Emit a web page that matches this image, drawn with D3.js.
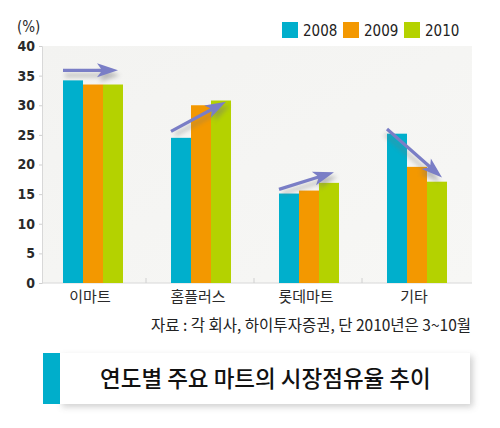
<!DOCTYPE html>
<html><head><meta charset="utf-8">
<script src="https://cdn.jsdelivr.net/npm/d3@7/dist/d3.min.js"></script>
<style>
html,body{margin:0;padding:0;background:#fff;}
svg{display:block;}
</style></head>
<body>
<script>
const categories = ["이마트", "홈플러스", "롯데마트", "기타"];
const years = ["2008", "2009", "2010"];
const v2008 = [34.2, 24.5, 15.1, 25.2];
const v2009 = [33.5, 30.0, 15.6, 19.6];
const v2010 = [33.5, 30.8, 16.9, 17.1];
const yTicks = [0, 5, 10, 15, 20, 25, 30, 35, 40];
const arrowFrom = [35.9, 25.6, 15.8, 26.0];
const arrowTo = [35.9, 30.6, 18.7, 17.8];
const colors = ["#00afcc", "#f39800", "#b4d200"];
const sourceText = "자료 : 각 회사, 하이투자증권, 단 2010년은 3~10월";
const titleText = "연도별 주요 마트의 시장점유율 추이";

const series = [v2008, v2009, v2010];
const W = 500, H = 428;
const svg = d3.select("body").append("svg").attr("width", W).attr("height", H);
const defs = svg.append("defs");

const plot = {left: 42, right: 472, top: 46, bottom: 283};
const numFont = "'DejaVu Sans Condensed','Liberation Sans Narrow',sans-serif";
const krFont = "'Noto Sans CJK KR',sans-serif";

// plot background gradient
const g1 = defs.append("linearGradient").attr("id", "bg").attr("x1", 0).attr("y1", 0).attr("x2", 1).attr("y2", 1);
g1.append("stop").attr("offset", 0).attr("stop-color", "#f3f3f1");
g1.append("stop").attr("offset", 1).attr("stop-color", "#f7f7f5");
svg.append("rect").attr("x", plot.left).attr("y", plot.top)
  .attr("width", plot.right - plot.left).attr("height", plot.bottom - plot.top)
  .attr("fill", "url(#bg)");

const y = d3.scaleLinear().domain([0, 40]).range([plot.bottom, plot.top]);
const x = d3.scaleBand().domain(categories).range([36, 468]);
const inner = d3.scaleBand().domain(years).range([0, 60]);

// y axis
const yAxis = svg.append("g").attr("transform", `translate(${plot.left},0)`)
  .call(d3.axisLeft(y).tickValues(yTicks).tickSize(3).tickPadding(4));
yAxis.select(".domain").attr("stroke", "#d8d8d8");
yAxis.selectAll(".tick line").attr("stroke", "#cfcfcf");
yAxis.selectAll("text").attr("fill", "#2a2a2a").style("font-family", numFont)
  .style("font-size", "14px").style("font-weight", "bold");

// x axis
const xAxis = svg.append("g").attr("transform", `translate(0,${plot.bottom})`)
  .call(d3.axisBottom(x).tickSize(0).tickPadding(8));
xAxis.select(".domain").attr("stroke", "#d8d8d8").attr("d", `M${plot.left},0H${plot.right}`);
xAxis.selectAll("text").attr("fill", "#2a2a2a").style("font-family", krFont).style("font-size", "15px");
// separators between groups
const seps = categories.slice(1);
svg.append("g").selectAll("line").data(seps).join("line")
  .attr("x1", d => x(d) + 2).attr("x2", d => x(d) + 2)
  .attr("y1", plot.bottom - 5).attr("y2", plot.bottom)
  .attr("stroke", "#d0d0d0");

// bars
const groupOffset = (x.bandwidth() - 60) / 2 + 3;
const bars = svg.append("g");
categories.forEach((c, i) => {
  years.forEach((yr, j) => {
    bars.append("rect")
      .attr("x", x(c) + groupOffset + inner(yr))
      .attr("y", y(series[j][i]))
      .attr("width", inner.bandwidth())
      .attr("height", y(0) - y(series[j][i]))
      .attr("fill", colors[j]);
  });
});

// arrows with shadow
const f = defs.append("filter").attr("id", "sh").attr("x", "-20%").attr("y", "-50%").attr("width", "140%").attr("height", "250%");
f.append("feGaussianBlur").attr("stdDeviation", 2);
const arrows = svg.append("g");
categories.forEach((c, i) => {
  const x0 = x(c) + groupOffset;
  const x1 = x0 + 55;
  const y0 = y(arrowFrom[i]), y1 = y(arrowTo[i]);
  const ang = Math.atan2(y1 - y0, x1 - x0);
  const len = Math.hypot(x1 - x0, y1 - y0);
  const g = arrows.append("g").attr("transform", `translate(${x0},${y0}) rotate(${ang * 180 / Math.PI})`);
  const path = `M0,-1.6 L${len - 17},-1.6 L${len - 21},-7 L${len},0 L${len - 21},7 L${len - 17},1.6 L0,1.6 Z`;
  g.append("path").attr("d", path).attr("fill", "#777").attr("opacity", 0.45)
    .attr("transform", "translate(2,5)").attr("filter", "url(#sh)");
  g.append("path").attr("d", path).attr("fill", "#7a7ec6");
});

// y unit
svg.append("text").attr("x", 17).attr("y", 32).text("(%)")
  .attr("fill", "#2a2a2a").style("font-family", numFont).style("font-size", "15px");

// legend
const leg = svg.append("g");
const legX = [282, 343, 404];
years.forEach((yr, j) => {
  leg.append("rect").attr("x", legX[j]).attr("y", 22).attr("width", 16).attr("height", 16).attr("fill", colors[j]);
  leg.append("text").attr("x", legX[j] + 21).attr("y", 36).text(yr)
    .attr("fill", "#222").style("font-family", numFont).style("font-size", "15px");
});

// source
svg.append("text").attr("x", 471).attr("y", 331).attr("text-anchor", "end").text(sourceText)
  .attr("fill", "#222").style("font-family", krFont).style("font-size", "15.5px");

// title box
const f2 = defs.append("filter").attr("id", "sh2").attr("x", "-10%").attr("y", "-30%").attr("width", "120%").attr("height", "170%");
f2.append("feGaussianBlur").attr("stdDeviation", 3);
svg.append("rect").attr("x", 62).attr("y", 356).attr("width", 411).attr("height", 51)
  .attr("fill", "#999").attr("opacity", 0.45).attr("filter", "url(#sh2)");
svg.append("rect").attr("x", 60).attr("y", 353).attr("width", 410).attr("height", 51).attr("fill", "#fff");
svg.append("rect").attr("x", 43).attr("y", 353).attr("width", 17).attr("height", 51).attr("fill", "#00aecb");
svg.append("text").attr("x", 100).attr("y", 387).text(titleText)
  .attr("fill", "#111").style("font-family", krFont).style("font-size", "22.5px").style("font-weight", 500);
</script>
</body></html>
